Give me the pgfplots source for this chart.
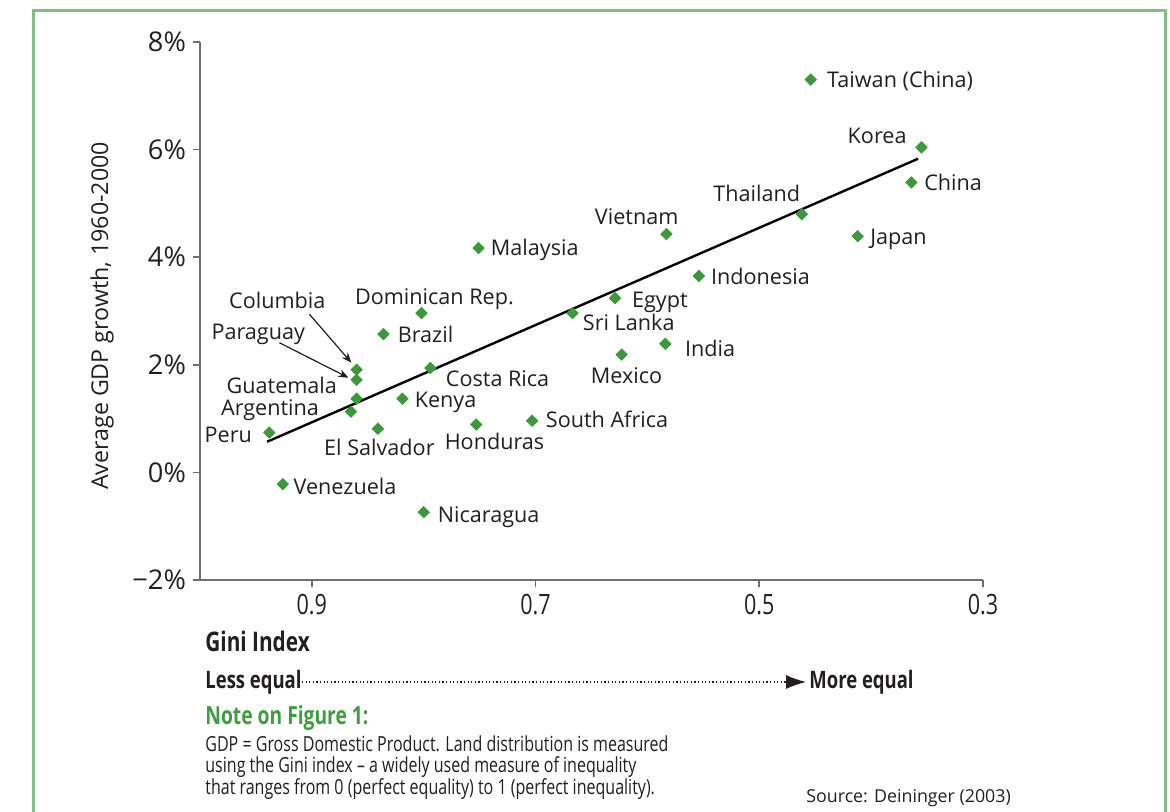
\documentclass[border=0pt]{standalone}
\usepackage{fontspec}
\setmainfont{Open Sans}
\newfontfamily\cond[FakeStretch=0.77]{Open Sans}
\usepackage{pgfplots}
\pgfplotsset{compat=1.18}
\usetikzlibrary{arrows.meta}
\definecolor{ptgreen}{HTML}{3A9A3A}
\definecolor{boxgreen}{HTML}{80C080}
\definecolor{notegreen}{HTML}{3C9E3C}
\definecolor{txt}{HTML}{231F20}
\definecolor{axgray}{HTML}{6E6E6E}
\pgfplotstableread{
x y
0.454 7.30
0.355 6.04
0.364 5.39
0.412 4.39
0.462 4.80
0.583 4.43
0.554 3.65
0.629 3.24
0.667 2.96
0.584 2.39
0.623 2.19
0.751 4.17
0.802 2.96
0.836 2.57
0.794 1.94
0.860 1.91
0.860 1.72
0.860 1.37
0.865 1.13
0.819 1.37
0.841 0.81
0.753 0.89
0.703 0.96
0.938 0.74
0.926 -0.22
0.800 -0.74
}\gini
\begin{document}
\begin{tikzpicture}[
  lbl/.style={inner sep=0pt, font=\fontsize{10.8}{12}\selectfont, text=txt, text height=7.7pt, text depth=0pt},
  bt/.style={inner sep=0pt, text=txt, text height=7pt, text depth=0pt}]
\useasboundingbox (0,0) rectangle (585pt,406pt);
\draw[boxgreen, line width=1.5pt] (16.5pt,-2pt) -- (16.5pt,400.5pt) -- (582.5pt,400.5pt) -- (582.5pt,-2pt);
\begin{axis}[at={(100pt,116pt)}, anchor=south west,
  width=391.5pt, height=269pt, scale only axis,
  xmin=0.3, xmax=1.0, x dir=reverse, ymin=-2, ymax=8,
  axis lines=left, axis line style={-, axgray, line width=0.8pt},
  tick align=outside, major tick length=3.5pt,
  tick style={axgray, line width=0.8pt},
  xtick={0.3,0.5,0.7,0.9}, xticklabels={0.3,0.5,0.7,0.9},
  ytick={-2,0,2,4,6,8}, yticklabels={−2\%,0\%,2\%,4\%,6\%,8\%},
  yticklabel style={font=\fontsize{13.6}{15}\selectfont, text=txt},
  xticklabel style={font=\cond\fontsize{14}{15}\selectfont, text=txt},
  clip=false]
\addplot[only marks, mark=square*, mark size=2pt, mark options={rotate=45, fill=ptgreen, draw=ptgreen}] table[x=x,y=y] {\gini};
\addplot[black, line width=1.2pt] coordinates {(0.940,0.57) (0.358,5.83)};
\node[lbl, anchor=west] at (axis cs:0.4396,7.30) {Taiwan (China)};
\node[lbl, anchor=east] at (axis cs:0.368,6.26) {Korea};
\node[lbl, anchor=west] at (axis cs:0.3528,5.39) {China};
\node[lbl, anchor=center] at (axis cs:0.5022,5.17) {Thailand};
\node[lbl, anchor=west] at (axis cs:0.4011,4.37) {Japan};
\node[lbl, anchor=center] at (axis cs:0.6096,4.76) {Vietnam};
\node[lbl, anchor=west] at (axis cs:0.5434,3.63) {Indonesia};
\node[lbl, anchor=west] at (axis cs:0.7403,4.17) {Malaysia};
\node[lbl, anchor=west] at (axis cs:0.6141,3.20) {Egypt};
\node[lbl, anchor=center] at (axis cs:0.7904,3.26) {Dominican Rep.};
\node[lbl, anchor=west] at (axis cs:0.658,2.78) {Sri Lanka};
\node[lbl, anchor=west] at (axis cs:0.8235,2.56) {Brazil};
\node[lbl, anchor=west] at (axis cs:0.5667,2.30) {India};
\node[lbl, anchor=center] at (axis cs:0.6186,1.80) {Mexico};
\node[lbl, anchor=west] at (axis cs:0.7805,1.74) {Costa Rica};
\node[lbl, anchor=center] at (axis cs:0.9309,3.19) {Columbia};
\node[lbl, anchor=center] at (axis cs:0.9479,2.61) {Paraguay};
\node[lbl, anchor=east] at (axis cs:0.8772,1.61) {Guatemala};
\node[lbl, anchor=east] at (axis cs:0.8933,1.20) {Argentina};
\node[lbl, anchor=east] at (axis cs:0.9533,0.70) {Peru};
\node[lbl, anchor=west] at (axis cs:0.8083,1.35) {Kenya};
\node[lbl, anchor=center] at (axis cs:0.8396,0.46) {El Salvador};
\node[lbl, anchor=center] at (axis cs:0.7367,0.56) {Honduras};
\node[lbl, anchor=west] at (axis cs:0.6911,0.98) {South Africa};
\node[lbl, anchor=west] at (axis cs:0.9166,-0.26) {Venezuela};
\node[lbl, anchor=west] at (axis cs:0.7877,-0.78) {Nicaragua};
\draw[-{Stealth[length=5pt,width=4pt]}, txt, line width=0.6pt] (axis cs:0.9022,2.94) -- (axis cs:0.8647,2.04);
\draw[-{Stealth[length=5pt,width=4pt]}, txt, line width=0.6pt] (axis cs:0.929,2.41) -- (axis cs:0.8673,1.76);
\end{axis}
\node[rotate=90, inner sep=0pt, text=txt, font=\fontsize{11.6}{13}\selectfont] at (51pt,248pt) {Average GDP growth, 1960-2000};
\node[bt, anchor=west, font=\cond\bfseries\fontsize{13.5}{15}\selectfont] at (102.5pt,83.5pt) {Gini Index};
\node[bt, anchor=west, font=\cond\bfseries\fontsize{12}{13}\selectfont] at (102.5pt,65pt) {Less equal};
\node[bt, anchor=west, font=\cond\bfseries\fontsize{12}{13}\selectfont] at (404.5pt,65pt) {More equal};
\draw[txt, line width=0.6pt, dash pattern=on 0.6pt off 1.2pt] (151pt,65pt) -- (393pt,65pt);
\draw[txt, line width=0.6pt, -{Latex[length=10pt,width=7pt]}] (392pt,65pt) -- (403pt,65pt);
\node[bt, anchor=west, text=notegreen, font=\cond\bfseries\fontsize{12.5}{14}\selectfont] at (102.5pt,47pt) {Note on Figure 1:};
\node[bt, anchor=west, font=\cond\fontsize{10.4}{11}\selectfont] at (102.5pt,33.5pt) {GDP = Gross Domestic Product. Land distribution is measured};
\node[bt, anchor=west, font=\cond\fontsize{10.4}{11}\selectfont] at (102.5pt,23pt) {using the Gini index – a widely used measure of inequality};
\node[bt, anchor=west, font=\cond\fontsize{10.4}{11}\selectfont] at (102.5pt,12.5pt) {that ranges from 0 (perfect equality) to 1 (perfect inequality).};
\node[bt, anchor=west, font=\fontsize{8.9}{11}\selectfont] at (403pt,8.5pt) {Source: Deininger (2003)};
\end{tikzpicture}
\end{document}
